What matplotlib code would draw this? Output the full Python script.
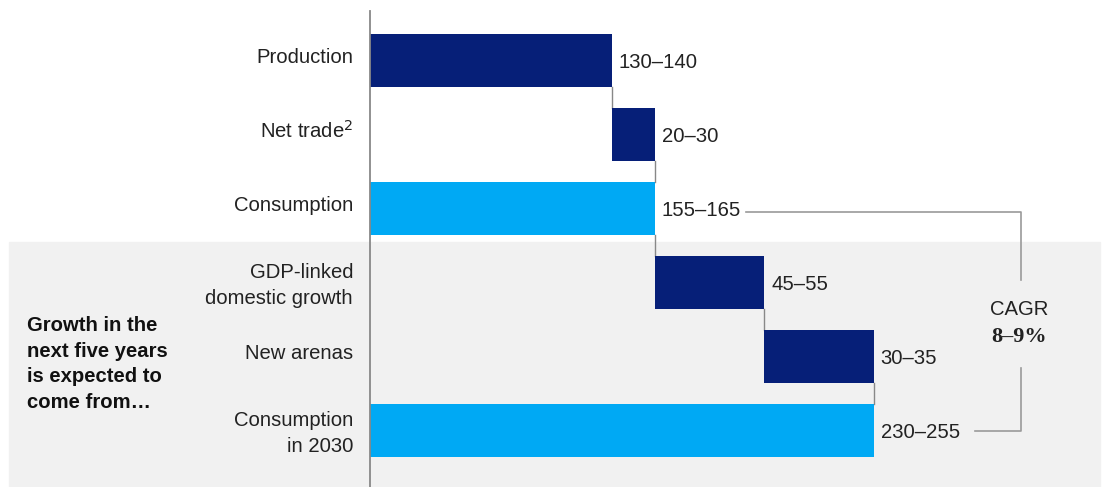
import matplotlib
matplotlib.use("Agg")
import matplotlib.pyplot as plt
from matplotlib.patches import Rectangle

plt.rcParams['font.family'] = ['Liberation Sans', 'DejaVu Sans']

# ---------------------------------------------------------------------------
# data (bar lengths, labels as printed)
categories = ["Production", "Net trade$^{2}$", "Consumption",
              "GDP-linked\ndomestic growth", "New arenas", "Consumption\nin 2030"]
bar_len = [135, 24, 159, 61, 61, 281]
is_total = [False, False, True, False, False, True]
range_labels = ["130\u2013140", "20\u201330", "155\u2013165", "45\u201355", "30\u201335", "230\u2013255"]
side_note = "Growth in the\nnext five years\nis expected to\ncome from\u2026"
cagr_text = "8\u20139%"

navy = "#061f78"
light = "#00a9f4"
txt = "#222222"
grey_line = "#9a9a9a"

# waterfall starts
starts = []
run = 0
for v, tot in zip(bar_len, is_total):
    if tot:
        starts.append(0)
        run = v
    else:
        starts.append(run)
        run += v

# ---------------------------------------------------------------------------
W, H = 1104, 487
fig = plt.figure(figsize=(W / 100, H / 100), dpi=100)

# grey background panel for the lower three rows
fig.patches.append(Rectangle((9 / W, 0), (1100 - 9) / W, (487 - 242) / H,
                             transform=fig.transFigure, color="#f1f1f1", zorder=-5))

ax = fig.add_axes([370 / W, 0, (W - 370) / W, 1])
ax.set_zorder(2)
ax.patch.set_alpha(0)
px = 242 / 135.0
ax.set_xlim(0, (W - 370) / px)
ax.set_ylim((487 - 60.5) / 74, -60.5 / 74)
ax.axis("off")

y = list(range(len(categories)))
colors = [light if t else navy for t in is_total]
ax.barh(y, bar_len, left=starts, height=0.716, color=colors, zorder=3)

# axis line
ax.plot([0, 0], [-0.67, (487 - 60.5) / 74], color="#888888", lw=1.3, clip_on=False, zorder=4)

# connectors
for i in range(len(y) - 1):
    xe = starts[i] + bar_len[i]
    ax.plot([xe, xe], [i + 0.358, i + 1 - 0.358], color="#888888", lw=1, zorder=2)

# labels
fs = 14.6
for i, (cat, lab) in enumerate(zip(categories, range_labels)):
    dy = -2 if "\n" in cat else 2.5
    ax.annotate(cat, xy=(0, i), xytext=(-12.2, dy), textcoords="offset points",
                ha="right", va="center", fontsize=fs, color=txt,
                linespacing=1.45, annotation_clip=False)
    ax.annotate(lab, xy=(starts[i] + bar_len[i], i), xytext=(5, -1.5),
                textcoords="offset points", ha="left", va="center",
                fontsize=fs, color=txt)

# CAGR bracket
bx = 363
ax.plot([210, bx, bx], [2.047, 2.047, 2.96], color=grey_line, lw=1.2)
ax.plot([bx, bx, 337.5], [4.155, 5.007, 5.007], color=grey_line, lw=1.2)
ax.text(bx - 1, 3.37, "CAGR", ha="center", va="center", fontsize=fs, color=txt)
ax.text(bx - 1, 3.73, cagr_text, ha="center", va="center", fontsize=16,
        fontweight="bold", family=["Liberation Serif", "DejaVu Serif"], color=txt)

fig.text(27 / W, 1 - 364 / H, side_note, ha="left", va="center", fontsize=fs,
         fontweight="bold", color="#111111", linespacing=1.45)

fig.savefig("out.png", dpi=100)
